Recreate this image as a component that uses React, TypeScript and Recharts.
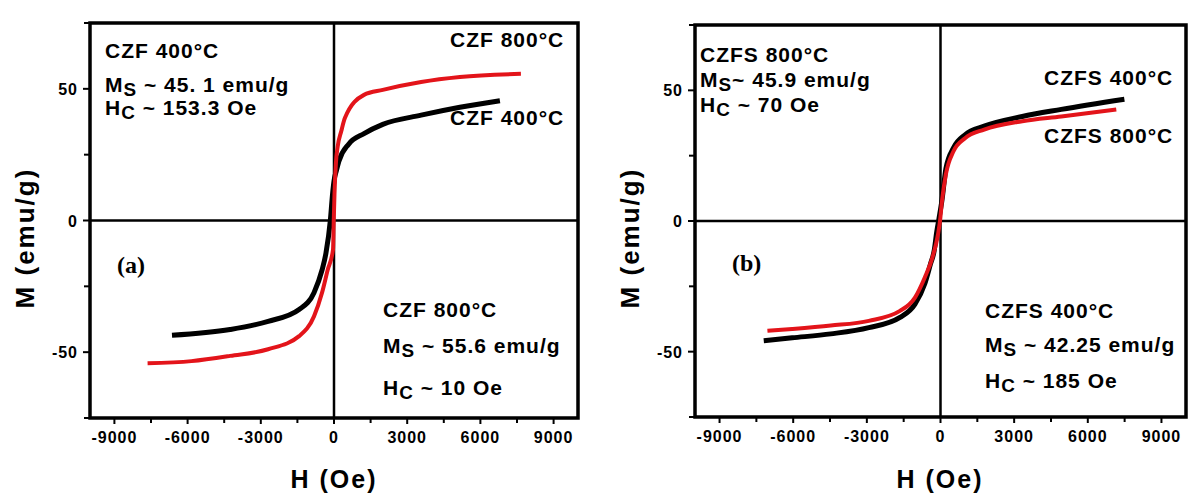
import React from 'react';
import { ComposedChart, Line, XAxis, YAxis, ReferenceLine, ReferenceArea } from 'recharts';

// ---- tick definitions ----
const xMajor = [-9000, -6000, -3000, 0, 3000, 6000, 9000];
const xTicks = [-9000, -7500, -6000, -4500, -3000, -1500, 0, 1500, 3000, 4500, 6000, 7500, 9000];
const yMajor = [-50, 0, 50];
const yTicks = [-75, -50, -25, 0, 25, 50, 75];

// ---- panel (a): CZF ----
const czf400H = [-6640, -4260, -2700, -1430, -820, -490, -330, -150, -60, 0, 100, 200, 600, 1230, 2000, 3570, 5160, 6800];
const czf400M = [-43.6, -41.4, -38.3, -33.8, -27.4, -18.8, -12.4, 0, 10, 15, 19, 22.5, 29, 33, 36.5, 40, 43, 45.5];
const czf800H = [-7640, -5840, -4260, -2700, -1430, -820, -490, -260, -40, -10, 20, 80, 150, 300, 450, 1230, 2000, 3570, 5160, 7660];
const czf800M = [-54.2, -53.4, -51.4, -48.9, -43.9, -36.4, -27.4, -18.8, -11, 0, 10, 22, 28, 34, 39, 47.7, 49.6, 52.6, 54.5, 55.7];

// ---- panel (b): CZFS ----
const czfs400H = [-7200, -6040, -4470, -2920, -1650, -1040, -640, -410, -260, -150, -60, 60, 220, 530, 1000, 1780, 3330, 4920, 7490];
const czfs400M = [-45.8, -44.7, -43.2, -40.8, -36.9, -31.8, -24, -16.5, -11.5, -4, 1, 8, 20, 28, 33, 36.3, 40, 42.7, 46.6];
const czfs800H = [-7050, -6040, -4470, -2920, -1650, -1040, -640, -330, -100, -20, 60, 220, 530, 1000, 1780, 3330, 4920, 7160];
const czfs800M = [-42, -41.3, -40, -38.2, -34.4, -29.3, -21.6, -14, -5, 0, 7.6, 17.9, 26.7, 31.7, 35, 38.2, 40, 42.7];

const toPts = (h: number[], m: number[]) => h.map((v, i) => ({ h: v, m: m[i] }));

const FONT = '"Liberation Sans", Arial, sans-serif';
const RED = '#e3141a';

const XTick = (props: any) => {
  const { x, y, payload } = props;
  const major = xMajor.includes(payload.value);
  return (
    <g>
      <line x1={x} y1={y} x2={x} y2={y + (major ? 6 : 5)} stroke="#000" strokeWidth={2} />
      {major && (
        <text x={x} y={y + 25} textAnchor="middle" fontFamily={FONT} fontWeight="bold" fontSize={16} letterSpacing={1} fill="#000">
          {payload.value}
        </text>
      )}
    </g>
  );
};

const YTick = (props: any) => {
  const { x, y, payload } = props;
  const major = yMajor.includes(payload.value);
  return (
    <g>
      <line x1={x - (major ? 7 : 6)} y1={y} x2={x} y2={y} stroke="#000" strokeWidth={2} />
      {major && (
        <text x={x - 12} y={y + 6} textAnchor="end" fontFamily={FONT} fontWeight="bold" fontSize={16} letterSpacing={1} fill="#000">
          {payload.value}
        </text>
      )}
    </g>
  );
};

type PanelProps = {
  left: number;
  margin: { top: number; right: number; bottom: number; left: number };
  black: { h: number; m: number }[];
  red: { h: number; m: number }[];
};

const Panel = ({ left, margin, black, red }: PanelProps) => (
  <div style={{ position: 'absolute', left, top: 0 }}>
    <ComposedChart width={600} height={504} margin={margin}>
      <XAxis
        type="number"
        dataKey="h"
        domain={[-10000, 10000]}
        ticks={xTicks}
        interval={0}
        allowDataOverflow
        height={40}
        axisLine={false}
        tickLine={false}
        tickSize={0}
        tickMargin={0}
        tick={<XTick />}
      />
      <YAxis
        type="number"
        dataKey="m"
        domain={[-75, 75]}
        ticks={yTicks}
        interval={0}
        allowDataOverflow
        width={50}
        axisLine={false}
        tickLine={false}
        tickSize={0}
        tickMargin={0}
        tick={<YTick />}
      />
      <ReferenceArea x1={-10000} x2={10000} y1={-75} y2={75} fill="none" stroke="#000" strokeWidth={3.5} fillOpacity={0} />
      <ReferenceLine x={0} stroke="#000" strokeWidth={2.5} />
      <ReferenceLine y={0} stroke="#000" strokeWidth={2.5} />
      <Line data={black} dataKey="m" type="monotone" stroke="#000" strokeWidth={5} dot={false} isAnimationActive={false} />
      <Line data={red} dataKey="m" type="monotone" stroke={RED} strokeWidth={4} dot={false} isAnimationActive={false} />
    </ComposedChart>
  </div>
);

const Ann = ({ x, capTop, children, size = 21, serif = false }: any) => (
  <div
    style={{
      position: 'absolute',
      left: x,
      top: capTop - Math.round(size * 0.13),
      fontFamily: serif ? '"Liberation Serif", "Times New Roman", serif' : FONT,
      fontWeight: 'bold',
      fontSize: size,
      lineHeight: `${size}px`,
      letterSpacing: serif ? 0 : 1,
      whiteSpace: 'nowrap',
      color: '#000',
    }}
  >
    {children}
  </div>
);

const Sub = ({ children }: any) => (
  <span style={{ fontSize: '0.9em', position: 'relative', top: 4 }}>{children}</span>
);

const XLabel = ({ cx }: { cx: number }) => (
  <div
    style={{
      position: 'absolute',
      left: cx - 100,
      top: 467,
      width: 200,
      textAlign: 'center',
      fontFamily: FONT,
      fontWeight: 'bold',
      fontSize: 25,
      lineHeight: '25px',
      letterSpacing: 2,
      color: '#000',
    }}
  >
    H (Oe)
  </div>
);

const YLabel = ({ cx, cy }: { cx: number; cy: number }) => (
  <div
    style={{
      position: 'absolute',
      left: cx - 100,
      top: cy - 13,
      width: 200,
      height: 26,
      textAlign: 'center',
      fontFamily: FONT,
      fontWeight: 'bold',
      fontSize: 26,
      lineHeight: '26px',
      letterSpacing: 2,
      transform: 'rotate(-90deg)',
      transformOrigin: 'center center',
      color: '#000',
    }}
  >
    M (emu/g)
  </div>
);

export default function App() {
  return (
    <div style={{ position: 'absolute', left: 0, top: 0, width: 1200, height: 504, background: '#fff', overflow: 'hidden' }}>
      <Panel
        left={0}
        margin={{ top: 23, right: 22, bottom: 46, left: 40 }}
        black={toPts(czf400H, czf400M)}
        red={toPts(czf800H, czf800M)}
      />
      <Panel
        left={600}
        margin={{ top: 25, right: 14, bottom: 47, left: 45 }}
        black={toPts(czfs400H, czfs400M)}
        red={toPts(czfs800H, czfs800M)}
      />

      <YLabel cx={25} cy={238} />
      <YLabel cx={630} cy={238} />
      <XLabel cx={334} />
      <XLabel cx={940} />

      {/* panel (a) annotations */}
      <Ann x={105} capTop={43}>CZF 400°C</Ann>
      <Ann x={105} capTop={77}>M<Sub>S</Sub> ~ 45. 1 emu/g</Ann>
      <Ann x={105} capTop={100}>H<Sub>C</Sub> ~ 153.3 Oe</Ann>
      <Ann x={450} capTop={32}>CZF 800°C</Ann>
      <Ann x={450} capTop={110}>CZF 400°C</Ann>
      <Ann x={117} capTop={256} size={24} serif>(a)</Ann>
      <Ann x={383} capTop={302}>CZF 800°C</Ann>
      <Ann x={383} capTop={338}>M<Sub>S</Sub> ~ 55.6 emu/g</Ann>
      <Ann x={383} capTop={380}>H<Sub>C</Sub> ~ 10 Oe</Ann>

      {/* panel (b) annotations */}
      <Ann x={700} capTop={47}>CZFS 800°C</Ann>
      <Ann x={700} capTop={72}>M<Sub>S</Sub>~ 45.9 emu/g</Ann>
      <Ann x={700} capTop={97}>H<Sub>C</Sub> ~ 70 Oe</Ann>
      <Ann x={1044} capTop={70}>CZFS 400°C</Ann>
      <Ann x={1044} capTop={128}>CZFS 800°C</Ann>
      <Ann x={732} capTop={254} size={24} serif>(b)</Ann>
      <Ann x={985} capTop={303}>CZFS 400°C</Ann>
      <Ann x={985} capTop={337}>M<Sub>S</Sub> ~ 42.25 emu/g</Ann>
      <Ann x={985} capTop={373}>H<Sub>C</Sub> ~ 185 Oe</Ann>
    </div>
  );
}
